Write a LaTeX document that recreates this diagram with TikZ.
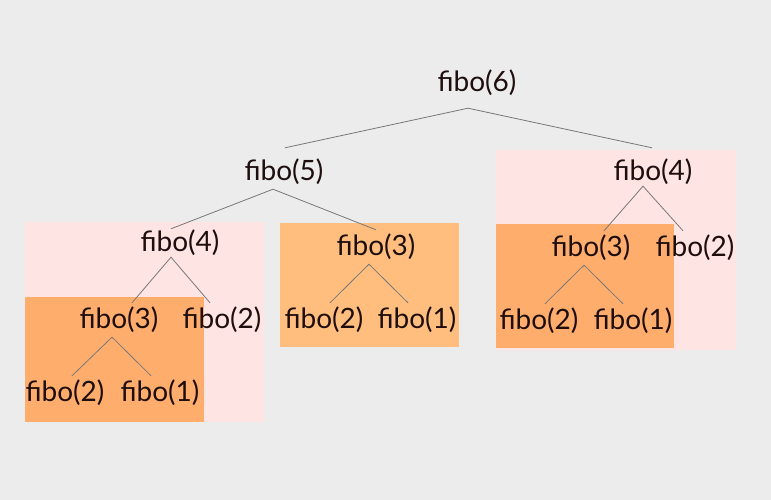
\documentclass[tikz,border=0pt]{standalone}
\usepackage{fontspec}
\setmainfont{Lato}
\definecolor{bggray}{RGB}{236,236,236}
\definecolor{callpink}{RGB}{255,228,228}
\definecolor{calldark}{RGB}{255,173,109}
\definecolor{calllight}{RGB}{255,190,126}
\definecolor{fibotext}{RGB}{30,14,14}
\definecolor{linkgray}{RGB}{120,120,120}

\begin{document}
\begin{tikzpicture}[x=1pt,y=-1pt,every node/.style={inner sep=0pt,minimum height=34pt,text=fibotext,font=\fontsize{28}{32}\selectfont},
					link/.style={draw=linkgray,line width=0.8pt}
					]
					\fill[bggray] (0,0) rectangle (771,500);
					\useasboundingbox (0,0) rectangle (771,500);
					\fill[callpink] (25,222) rectangle (264,422);
					\fill[calldark] (25,297) rectangle (204,422);
					\fill[calllight] (280,223) rectangle (459,347);
					\fill[callpink] (496,150) rectangle (736,350);
					\fill[calldark] (496,224) rectangle (674,348);
					\node (f6) at (477,83) {fibo(6)};
					\node (f5) at (284,172) {fibo(5)};
					\node (f4r) at (653,172) {fibo(4)};
					\node (f4l) at (180,243) {fibo(4)};
					\node (f3m) at (376,247) {fibo(3)};
					\node (f3r) at (591,248) {fibo(3)};
					\node (f2r) at (695,248) {fibo(2)};
					\node (f3l) at (119,320) {fibo(3)};
					\node (f2l) at (222,320) {fibo(2)};
					\node (f2m) at (324,320) {fibo(2)};
					\node (f1m) at (417,320) {fibo(1)};
					\node (f2rr) at (539,321) {fibo(2)};
					\node (f1rr) at (633,321) {fibo(1)};
					\node (f2ll) at (65,393) {fibo(2)};
					\node (f1ll) at (160,393) {fibo(1)};
					\draw[link] ([xshift=1pt,yshift=7pt]f5.north) -- ([xshift=-9pt,yshift=-8pt]f6.south) -- ([xshift=-1pt,yshift=7pt]f4r.north);
					\draw[link] ([xshift=-9pt,yshift=-3pt]f4l.north) -- ([xshift=-11pt]f5.south) -- (f3m.north);
					\draw[link] ([xshift=13pt]f3l.north) -- ([xshift=-9pt,yshift=3pt]f4l.south) -- ([xshift=-12pt]f2l.north);
					\draw[link] ([xshift=7pt]f2ll.north) -- ([xshift=-7pt]f3l.south) -- ([xshift=-9pt]f1ll.north);
					\draw[link] ([xshift=6pt]f2m.north) -- ([xshift=-7pt]f3m.south) -- ([xshift=-9pt]f1m.north);
					\draw[link] ([xshift=13pt]f3r.north) -- ([xshift=-10pt,yshift=3pt]f4r.south) -- ([xshift=-12pt]f2r.north);
					\draw[link] ([xshift=6pt]f2rr.north) -- ([xshift=-7pt]f3r.south) -- ([xshift=-10pt]f1rr.north);
\end{tikzpicture}
\end{document}
